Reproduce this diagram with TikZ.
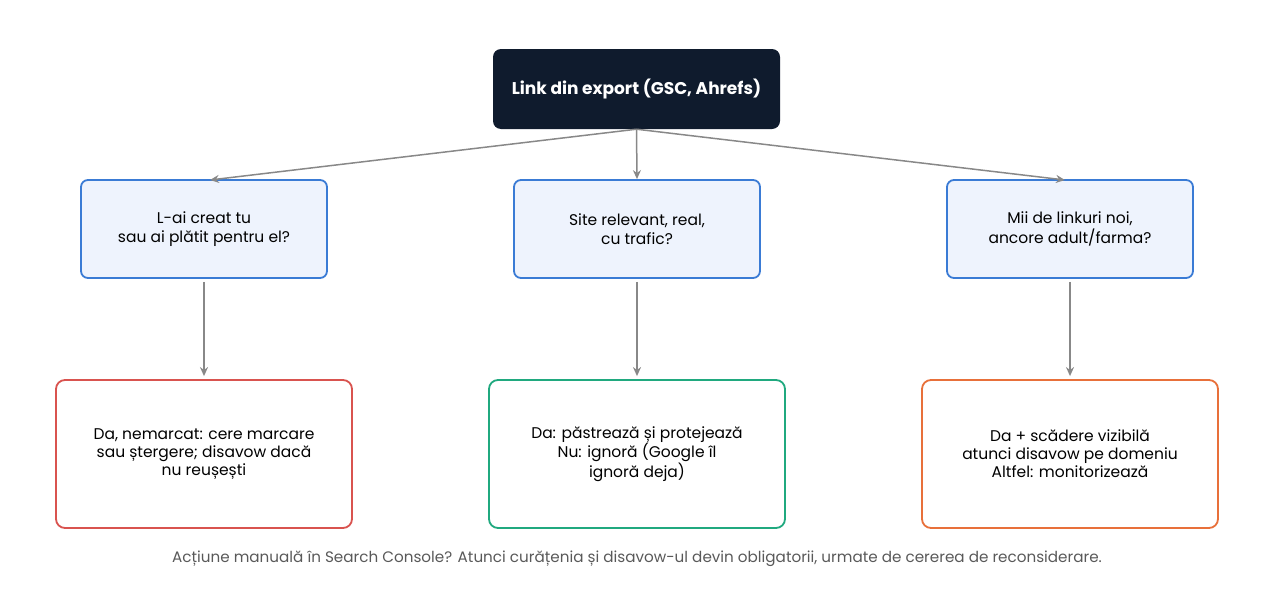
\documentclass[tikz,border=0pt]{standalone}
\usepackage{fontspec}
\setmainfont{Poppins}
\usetikzlibrary{arrows.meta,positioning}
\definecolor{navy}{HTML}{0F1B2D}
\definecolor{qfill}{HTML}{EEF3FD}
\definecolor{qline}{HTML}{3A7BD5}
\definecolor{cred}{HTML}{D9534F}
\definecolor{cgreen}{HTML}{20A97F}
\definecolor{corange}{HTML}{E8703A}
\definecolor{arrgray}{HTML}{888888}
\tikzset{
  root/.style={fill=navy, rounded corners=8pt, minimum width=287pt, minimum height=80pt,
    text=white, font=\bfseries\fontsize{17}{20}\selectfont},
  question/.style={draw=qline, line width=1.8pt, fill=qfill, rounded corners=7pt,
    minimum width=246pt, minimum height=98pt, align=center, font=\fontsize{15.5}{19.5}\selectfont},
  answer/.style={line width=1.8pt, fill=white, rounded corners=9pt,
    minimum width=296pt, minimum height=148pt, align=center, font=\fontsize{15.5}{18}\selectfont},
  link/.style={draw=arrgray, line width=1.5pt, -{Stealth[length=9pt,width=8pt]}}
}
\begin{document}
\begin{tikzpicture}[x=1pt,y=-1pt]
\useasboundingbox (0,0) rectangle (1274,605);

% Root
\node[root] (src) at (636.5,89) {Link din export (GSC, Ahrefs)};

% Questions
\node[question] (q1) at (204,229) {L-ai creat tu\\sau ai plătit pentru el?};
\node[question] (q2) at (637,229) {Site relevant, real,\\cu trafic?};
\node[question] (q3) at (1070,229) {Mii de linkuri noi,\\ancore adult/farma?};

% Answers
\node[answer, draw=cred] (a1) at (204,454) {Da, nemarcat: cere marcare\\sau ștergere; disavow dacă\\nu reușești};
\node[answer, draw=cgreen] (a2) at (637,454) {Da: păstrează și protejează\\Nu: ignoră (Google îl\\ignoră deja)};
\node[answer, draw=corange] (a3) at (1070,454) {Da + scădere vizibilă\\atunci disavow pe domeniu\\Altfel: monitorizează};

% Connectors
\coordinate (t1) at (210,180);
\coordinate (t3) at (1065,180);
\draw[link] (src.south) -- (t1);
\draw[link] (src.south) -- (q2.north);
\draw[link] (src.south) -- (t3);
\foreach \i in {1,2,3}
  \draw[link, shorten <=3pt, shorten >=3pt] (q\i.south) -- (a\i.north);

% Caption
\node[text=black!65, font=\fontsize{15.2}{18}\selectfont] (note) at (637,559)
  {Acțiune manuală în Search Console? Atunci curățenia și disavow-ul devin obligatorii, urmate de cererea de reconsiderare.};
\end{tikzpicture}
\end{document}
